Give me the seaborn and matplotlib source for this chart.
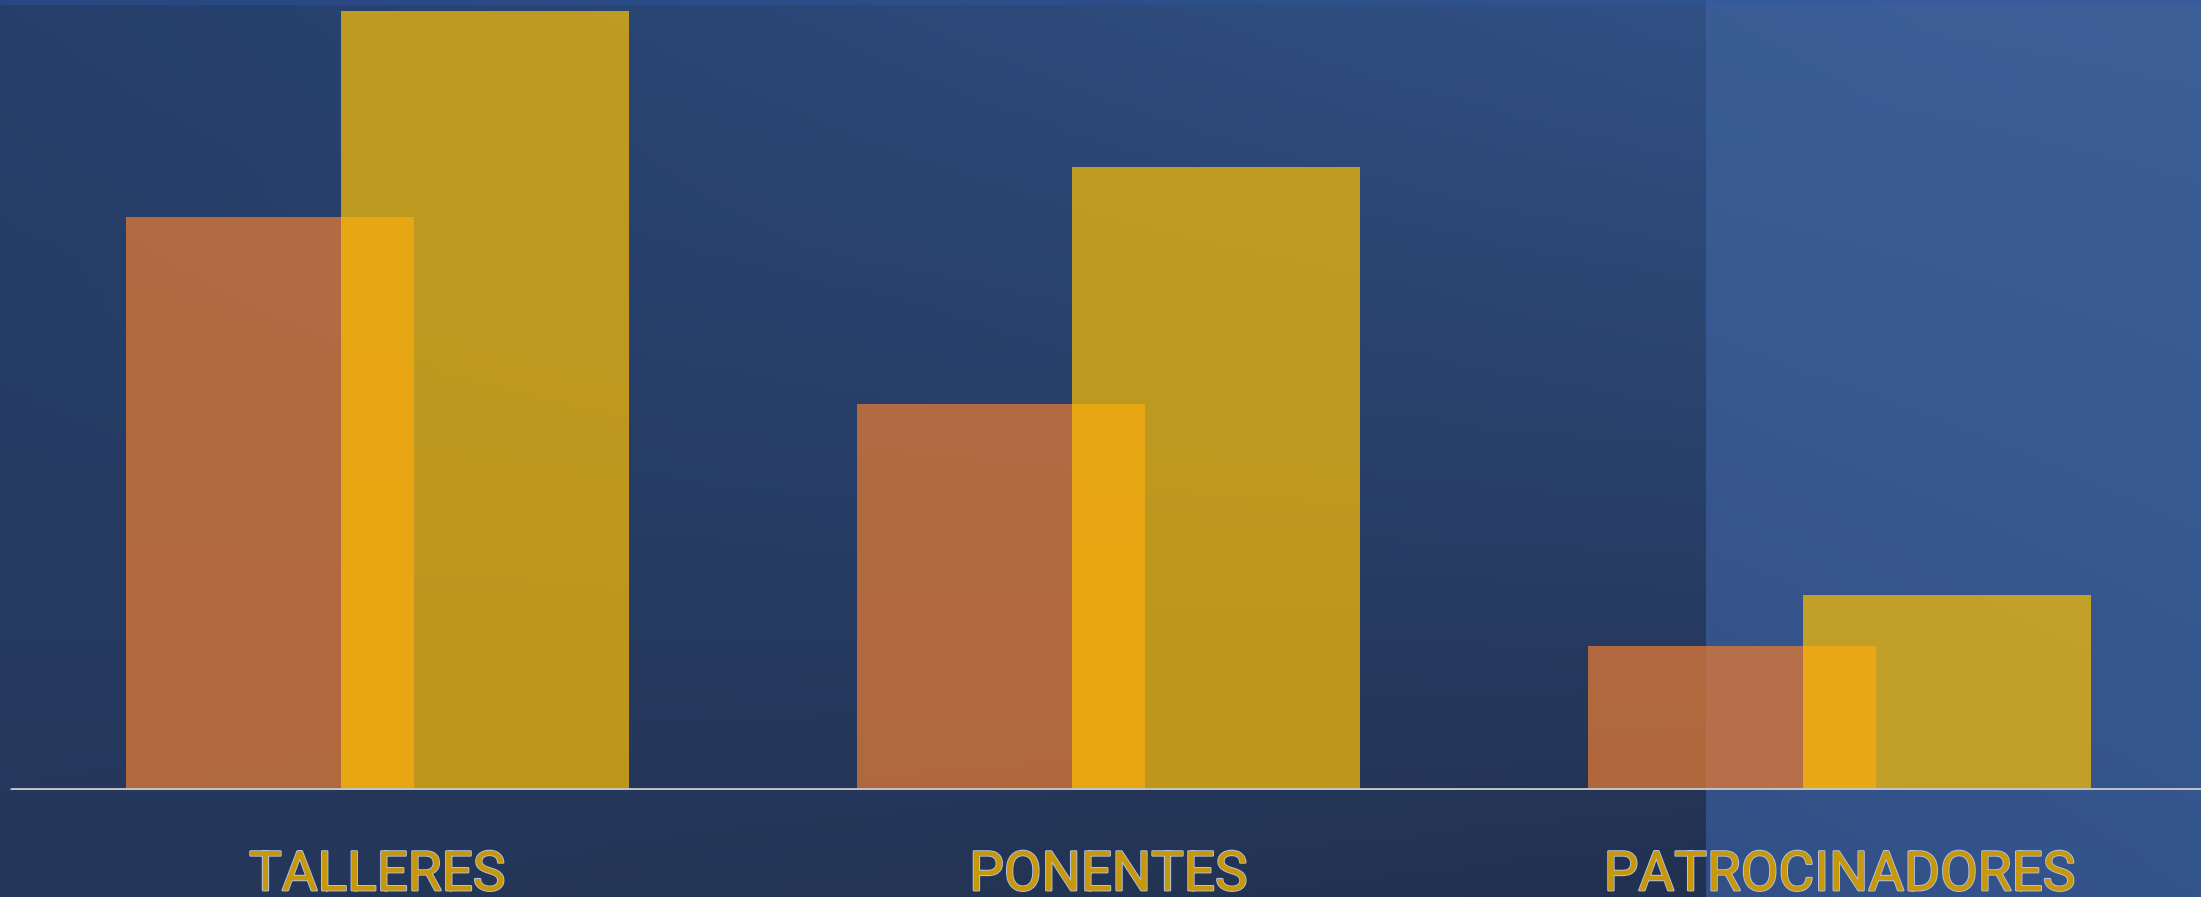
import numpy as np
import pandas as pd
import seaborn as sns
import matplotlib.pyplot as plt
import matplotlib.patheffects as pe

categorias = ["TALLERES", "PONENTES", "PATROCINADORES"]
serie_naranja = [14.7, 9.9, 3.7]
serie_dorada = [20.0, 16.0, 5.0]

W, H = 2201, 897
sns.set_style("white")
plt.rcParams['font.family'] = ['Roboto', 'DejaVu Sans']


def gradient(tl, tr, bl, br, n=200):
    # bilinear blend of four corner colours (rgb 0-255)
    t = np.linspace(0, 1, n)
    xx, yy = np.meshgrid(t, t)
    tl, tr, bl, br = [np.array(c, float) / 255 for c in (tl, tr, bl, br)]
    img = ((1 - xx)[..., None] * (1 - yy)[..., None] * tl + xx[..., None] * (1 - yy)[..., None] * tr
           + (1 - xx)[..., None] * yy[..., None] * bl + xx[..., None] * yy[..., None] * br)
    return img


fig = plt.figure(figsize=(W / 100, H / 100), dpi=100)

# background
bg = fig.add_axes([0, 0, 1, 1])
bg.axis('off')
bg.imshow(gradient((38, 63, 107), (52, 86, 140), (37, 56, 91), (33, 47, 78)),
          extent=[0, 1, 0, 1], aspect='auto')
bg.imshow(gradient((59, 93, 150), (62, 94, 152), (50, 80, 134), (52, 84, 140)),
          extent=[1706 / W, 1, 0, 1], aspect='auto')
bg.axhspan(1 - 5 / H, 1, color='#2F58A8', alpha=0.35, lw=0)
bg.set_xlim(0, 1)
bg.set_ylim(0, 1)

# chart
base_px = 790
ax = fig.add_axes([0, (H - base_px) / H, 1, base_px / H])
ax.patch.set_alpha(0)

pos = np.arange(len(categorias))
df = pd.DataFrame({"pos": pos, "cat": categorias, "naranja": serie_naranja, "dorada": serie_dorada})
ancho, desfase = 0.394, 0.147

sns.barplot(x=df["pos"] - desfase, y=df["naranja"], native_scale=True, orient="x", width=ancho,
            color="#ED7D31", saturation=1, alpha=0.7, errorbar=None, linewidth=0, ax=ax)
sns.barplot(x=df["pos"] + desfase, y=df["dorada"], native_scale=True, orient="x", width=ancho,
            color="#FFC000", saturation=1, alpha=0.7, errorbar=None, linewidth=0, ax=ax)

ax.set_xlim(-0.516, 2.494)
ax.set_ylim(0, 20.28)
ax.set_yticks([])
ax.set_xticks(pos, df["cat"])
ax.set_xlabel("")
ax.set_ylabel("")
sns.despine(ax=ax, left=True, bottom=True)
ax.axhline(0, xmin=12 / W, xmax=1, color="#C4C4C4", lw=2.8, zorder=5)

ax.tick_params(axis='x', length=0, pad=42, labelsize=39.5, labelcolor="#C8980A")
for lbl in ax.get_xticklabels():
    lbl.set_fontweight("normal")
    lbl.set_path_effects([pe.withStroke(linewidth=1.6, foreground="#B4C3D8"), pe.Normal()])

fig.savefig("out.png", dpi=100)
